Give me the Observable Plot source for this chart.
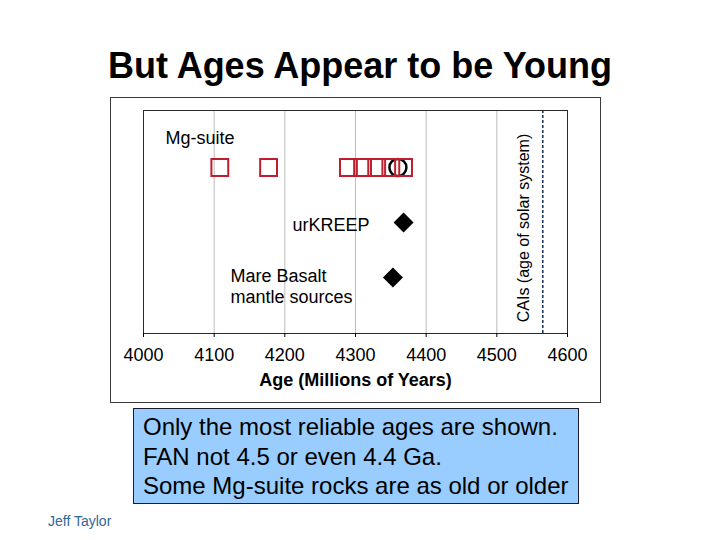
<!DOCTYPE html>
<html><head><meta charset="utf-8">
<script src="https://cdn.jsdelivr.net/npm/d3@7"></script>
<script src="https://cdn.jsdelivr.net/npm/@observablehq/plot@0.6"></script>
<style>
body{margin:0;background:#fff;font-family:"Liberation Sans",Arial,sans-serif;}
#page{position:relative;width:720px;height:540px;overflow:hidden;background:#fff;}
#title{position:absolute;left:0;width:720px;top:48px;text-align:center;font-weight:bold;font-size:36px;line-height:36px;color:#000;white-space:nowrap;}
#chart{position:absolute;left:110px;top:97px;width:489px;height:304px;border:1px solid #3a3a3a;background:#fff;}
#chart svg{display:block;}
#note{position:absolute;left:133px;top:408px;width:435px;height:91px;border:1px solid #1a1a2a;background:#99ccff;font-size:24px;line-height:29.5px;padding:3px 0 0 9px;color:#000;white-space:nowrap;}
#author{position:absolute;left:48px;top:514px;font-size:14px;line-height:14px;color:#336699;}
</style>
</head><body>
<div id="page">
  <div id="title"></div>
  <div id="chart"></div>
  <div id="note"></div>
  <div id="author"></div>
</div>
<script>
// ---- data ----
const titleText = "But Ages Appear to be Young";
const xLabel = "Age (Millions of Years)";
const xTicks = [4000, 4100, 4200, 4300, 4400, 4500, 4600];
const gridTicks = [4100, 4200, 4300, 4400, 4500];
const groups = ["Mg-suite", "urKREEP", "Mare Basalt"];
const mgSuiteAges = [4108, 4177, 4290, 4310, 4330, 4350, 4368];
const mgSuiteCircleAges = [4360];
const urKreepAges = [4368];
const mareBasaltAges = [4353];
const caiAges = [4565];
const caiLabel = "CAIs (age of solar system)";
const noteLines = [
  "Only the most reliable ages are shown.",
  "FAN not 4.5 or even 4.4 Ga.",
  "Some Mg-suite rocks are as old or older"
];
const authorText = "Jeff Taylor";

// ---- page text ----
document.getElementById("title").textContent = titleText;
document.getElementById("note").innerHTML = noteLines.map(s => `<div>${s}</div>`).join("");
document.getElementById("author").textContent = authorText;

const font = "'Liberation Sans', Arial, sans-serif";
const red = "#be1e2d";

const chart = Plot.plot({
  width: 489,
  height: 304,
  marginLeft: 32,
  marginRight: 33,
  marginTop: 12,
  marginBottom: 69,
  style: {fontFamily: font, background: "white", color: "#000"},
  x: {domain: [4000, 4600]},
  y: {type: "point", domain: groups, padding: 1, axis: null},
  marks: [
    Plot.gridX(gridTicks, {stroke: "#bdbdbd", strokeOpacity: 1}),
    Plot.ruleX(caiAges, {stroke: "#1f3864", strokeWidth: 1.6, strokeDasharray: "3,2"}),
    Plot.frame({stroke: "#2a2a2a"}),
    Plot.axisX(xTicks, {tickSize: 4, tickPadding: 11, fontSize: 18, tickFormat: d => String(d), label: null, stroke: "#000"}),
    Plot.text([xLabel], {frameAnchor: "bottom", lineAnchor: "middle", dy: 47, fontSize: 18, fontWeight: "bold", fill: "#000"}),
    // Mg-suite
    Plot.dot(mgSuiteCircleAges, {x: d => d, y: () => "Mg-suite", symbol: "circle", r: 8.5, stroke: "#000", strokeWidth: 2.5, fill: "none"}),
    Plot.dot(mgSuiteAges, {x: d => d, y: () => "Mg-suite", symbol: "square", r: 9.5, stroke: red, strokeWidth: 2, fill: "none"}),
    Plot.dot(urKreepAges, {x: d => d, y: () => "urKREEP", symbol: "diamond2", r: 9, fill: "#000", stroke: "none"}),
    Plot.dot(mareBasaltAges, {x: d => d, y: () => "Mare Basalt", symbol: "diamond2", r: 9, fill: "#000", stroke: "none"}),
    // labels
    Plot.text(["Mg-suite"], {x: () => 4031, y: () => "Mg-suite", dy: -29, textAnchor: "start", fontSize: 18, fill: "#000"}),
    Plot.text(["urKREEP"], {x: () => 4320, y: () => "urKREEP", dy: 3, textAnchor: "end", fontSize: 18, fill: "#000"}),
    Plot.text(["Mare Basalt\nmantle sources"], {x: () => 4123, y: () => "Mare Basalt", dy: 8, textAnchor: "start", lineHeight: 1.2, fontSize: 18, fill: "#000"}),
    Plot.text([caiLabel], {x: () => 4538, frameAnchor: "middle", rotate: -90, dy: 6, fontSize: 16, fill: "#000"})
  ]
});
document.getElementById("chart").appendChild(chart);
</script>
</body></html>
